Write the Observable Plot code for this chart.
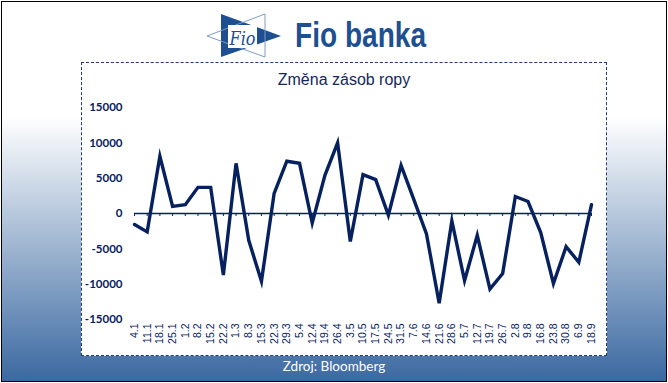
<!DOCTYPE html>
<html><head><meta charset="utf-8">
<script src="https://cdn.jsdelivr.net/npm/d3@7"></script>
<script src="https://cdn.jsdelivr.net/npm/@observablehq/plot@0.6"></script>
<style>
html,body{margin:0;padding:0;background:#fff;}
#page{position:relative;width:668px;height:383px;overflow:hidden;background:#fff;}
#frame{position:absolute;left:1px;top:1px;width:666px;height:381px;box-sizing:border-box;border:1px solid #000;
  background:linear-gradient(to bottom,#ffffff 0px,#ffffff 115px,#3b69a1 100%);}
#box{position:absolute;left:81px;top:62px;width:526px;height:294px;box-sizing:border-box;background:#fff;border:1px dashed #1f3a78;}
#title{position:absolute;left:81px;top:71px;width:526px;text-align:center;font:16px "Liberation Sans",Arial,sans-serif;color:#14285a;}
#chart{position:absolute;left:81px;top:95px;}
#logo{position:absolute;left:0;top:0;}
#source{position:absolute;left:0;width:668px;top:358px;text-align:center;font:13.5px Lato,"Open Sans",sans-serif;color:#fff;}
</style></head>
<body>
<div id="page">
  <div id="frame"></div>
  <svg id="logo" width="668" height="60">
    <polygon points="221,14 221,57 281,36" fill="#1d4f91"/>
    <polygon points="207,36 265,14 265,57" fill="none" stroke="#7f9cc4" stroke-width="1"/>
    <rect x="228" y="25" width="29" height="23" fill="#fff"/>
    <text x="242.5" y="45" text-anchor="middle" font-family="'DejaVu Serif','Liberation Serif',serif" font-style="italic" font-size="19" fill="#1d4f91" textLength="26" lengthAdjust="spacingAndGlyphs">Fio</text>
    <text x="295" y="47" font-family="'Liberation Sans Narrow','Liberation Sans',Arial,sans-serif" font-weight="bold" font-size="35" fill="#1d4f91" textLength="131" lengthAdjust="spacingAndGlyphs">Fio banka</text>
  </svg>
  <div id="box"></div>
  <div id="title">Změna zásob ropy</div>
  <div id="chart"></div>
  <div id="source">Zdroj: Bloomberg</div>
</div>
<script>
const dates = ["4.1","11.1","18.1","25.1","1.2","8.2","15.2","22.2","1.3","8.3","15.3","22.3","29.3","5.4","12.4","19.4","26.4","3.5","10.5","17.5","24.5","31.5","7.6","14.6","21.6","28.6","5.7","12.7","19.7","26.7","2.8","9.8","16.8","23.8","30.8","6.9","18.9"];
const values = [-1550,-2600,8100,1000,1250,3700,3700,-8700,7100,-3800,-9600,2850,7400,7100,-1350,5400,10000,-3950,5500,4800,-250,6800,2000,-2900,-12700,-1050,-9500,-3100,-10700,-8500,2400,1700,-2700,-9900,-4700,-6900,1250];
const yTicks = [-15000,-10000,-5000,0,5000,10000,15000];

const navy = "#06215e";
const data = dates.map((d, i) => ({date: d, value: values[i]}));

const chart = Plot.plot({
  width: 525,
  height: 262,
  marginTop: 12,
  marginBottom: 38,
  marginLeft: 53,
  marginRight: 15,
  style: {background: "transparent", overflow: "visible"},
  x: {type: "point", domain: dates, padding: 0, round: false},
  y: {domain: [-15000, 15000]},
  marks: [
    Plot.axisY({ticks: yTicks, tickSize: 0, tickPadding: 12, tickFormat: d => String(d),
      fontSize: 11.5, fontWeight: "bold", fill: navy, fontFamily: "Lato,'Open Sans',sans-serif", label: null}),
    Plot.axisX({tickRotate: -90, tickSize: 0, tickPadding: 4, fontSize: 10.5, fill: navy,
      fontFamily: "'Liberation Sans',Arial,sans-serif", label: null}),
    Plot.ruleY([0], {stroke: navy, strokeWidth: 1.3}),
    Plot.ruleX(dates, {x: d => d, y1: 0, y2: 0, insetBottom: -3, stroke: navy, strokeWidth: 1}),
    Plot.line(data, {x: "date", y: "value", stroke: navy, strokeWidth: 3.4, strokeLinejoin: "miter", strokeMiterlimit: 6})
  ]
});
document.getElementById("chart").appendChild(chart);
</script>
</body></html>
